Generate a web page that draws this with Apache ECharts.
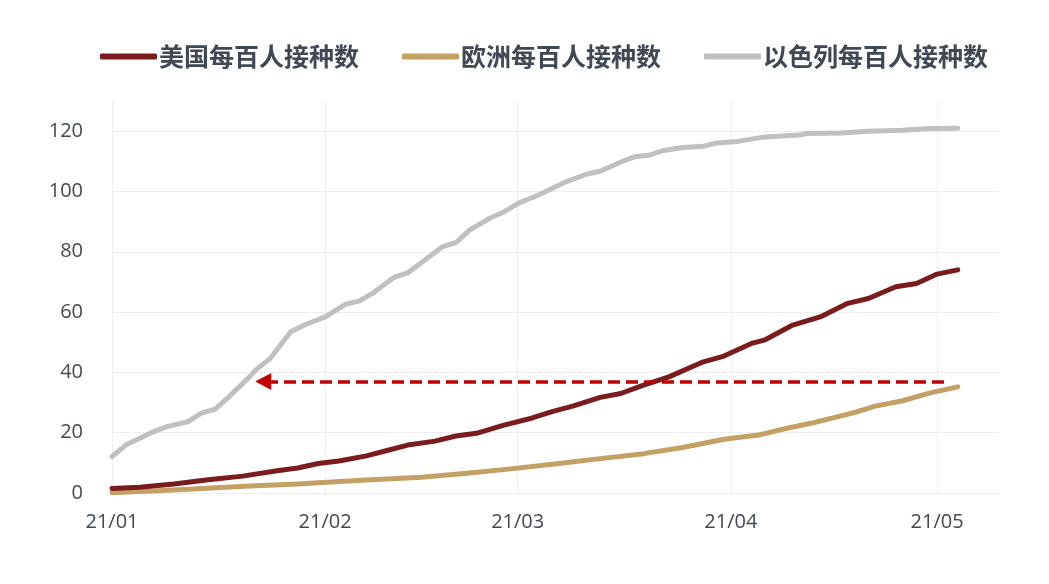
<!DOCTYPE html>
<html>
<head>
<meta charset="utf-8">
<script src="https://cdn.jsdelivr.net/npm/echarts@6/dist/echarts.min.js"></script>
<style>html,body{margin:0;padding:0;background:#fff}#c{width:1049px;height:584px}</style>
</head>
<body>
<div id="c"></div>
<script>
// ---- Data ----
const seriesNames = ['美国每百人接种数', '欧洲每百人接种数', '以色列每百人接种数'];
const axisStart = '2021-01-01';
const axisEnd = '2021-05-10';
const yTicks = [0, 20, 40, 60, 80, 100, 120];

const usData = [
  ['2021-01-01', 1.5], ['2021-01-05', 1.9], ['2021-01-10', 3.0], ['2021-01-15', 4.4],
  ['2021-01-20', 5.6], ['2021-01-25', 7.4], ['2021-01-28', 8.3], ['2021-01-31', 9.8],
  ['2021-02-03', 10.6], ['2021-02-07', 12.3], ['2021-02-10', 14.1], ['2021-02-13', 15.9],
  ['2021-02-17', 17.2], ['2021-02-20', 18.9], ['2021-02-23', 19.8], ['2021-02-27', 22.5],
  ['2021-03-03', 24.8], ['2021-03-06', 27.0], ['2021-03-09', 28.8], ['2021-03-13', 31.7],
  ['2021-03-16', 33.0], ['2021-03-19', 35.5], ['2021-03-23', 38.5], ['2021-03-28', 43.5],
  ['2021-03-31', 45.4], ['2021-04-04', 49.6], ['2021-04-06', 50.8], ['2021-04-10', 55.7],
  ['2021-04-14', 58.4], ['2021-04-18', 62.9], ['2021-04-21', 64.5], ['2021-04-25', 68.4],
  ['2021-04-28', 69.5], ['2021-05-01', 72.6], ['2021-05-04', 74.0]
];

const euData = [
  ['2021-01-01', 0.1], ['2021-01-10', 1.0], ['2021-01-21', 2.3], ['2021-01-28', 3.0],
  ['2021-01-31', 3.4], ['2021-02-07', 4.3], ['2021-02-15', 5.2], ['2021-02-22', 6.6],
  ['2021-02-28', 8.0], ['2021-03-07', 9.8], ['2021-03-13', 11.4], ['2021-03-19', 12.9],
  ['2021-03-20', 13.3], ['2021-03-25', 15.1], ['2021-03-31', 17.8], ['2021-04-05', 19.2],
  ['2021-04-09', 21.4], ['2021-04-13', 23.3], ['2021-04-16', 25.0], ['2021-04-19', 26.7],
  ['2021-04-22', 28.8], ['2021-04-26', 30.6], ['2021-04-30', 33.2], ['2021-05-04', 35.2]
];

const ilData = [
  ['2021-01-01', 12.1], ['2021-01-03', 15.9], ['2021-01-07', 20.3], ['2021-01-09', 22.0],
  ['2021-01-12', 23.6], ['2021-01-14', 26.5], ['2021-01-16', 27.8], ['2021-01-18', 31.9],
  ['2021-01-21', 38.5], ['2021-01-22', 41.0], ['2021-01-24', 44.6], ['2021-01-27', 53.5],
  ['2021-01-29', 55.7], ['2021-02-01', 58.4], ['2021-02-04', 62.6], ['2021-02-06', 63.7],
  ['2021-02-08', 66.4], ['2021-02-11', 71.5], ['2021-02-13', 73.0], ['2021-02-16', 78.1],
  ['2021-02-18', 81.6], ['2021-02-20', 83.0], ['2021-02-22', 87.2], ['2021-02-25', 91.2],
  ['2021-02-27', 93.2], ['2021-03-01', 96.0], ['2021-03-04', 98.8], ['2021-03-05', 99.9],
  ['2021-03-08', 103.2], ['2021-03-11', 105.7], ['2021-03-13', 106.7], ['2021-03-16', 109.8],
  ['2021-03-18', 111.5], ['2021-03-20', 112.0], ['2021-03-22', 113.5], ['2021-03-25', 114.6],
  ['2021-03-28', 115.0], ['2021-03-30', 116.1], ['2021-04-02', 116.6], ['2021-04-06', 118.1],
  ['2021-04-11', 118.7], ['2021-04-12', 119.2], ['2021-04-17', 119.4], ['2021-04-21', 120.0],
  ['2021-04-26', 120.3], ['2021-04-30', 120.9], ['2021-05-04', 121.0]
];

// Annotation: dashed arrow (level and extent)
const arrowLevel = 37;
const arrowFrom = '2021-05-02';
const arrowTo = '2021-01-23';

// ---- Build daily category axis ----
function buildDays(a, b) {
  const out = [];
  let t = Date.UTC(+a.slice(0,4), +a.slice(5,7)-1, +a.slice(8,10));
  const end = Date.UTC(+b.slice(0,4), +b.slice(5,7)-1, +b.slice(8,10));
  while (t <= end) {
    out.push(new Date(t).toISOString().slice(0,10));
    t += 86400000;
  }
  return out;
}
const days = buildDays(axisStart, axisEnd);
const isMonthStart = (i, v) => v.slice(8,10) === '01';

const colors = ['#7a1c1c', '#c4a064', '#c0c0c0'];
const textColor = '#404853';
const gridColor = '#eeeeee';

const chart = echarts.init(document.getElementById('c'));
chart.setOption({
  animation: false,
  color: colors,
  legend: {
    top: 39,
    left: 95,
    icon: 'roundRect',
    itemWidth: 57,
    itemHeight: 6,
    itemGap: 43,
    textStyle: { fontSize: 25, fontWeight: 'bold', color: textColor, fontFamily: 'Noto Sans CJK SC', padding: [0, 0, 0, -3] },
    data: seriesNames
  },
  grid: { left: 112, right: 50, top: 101, bottom: 91 },
  xAxis: {
    type: 'category',
    data: days,
    boundaryGap: false,
    axisLine: { lineStyle: { color: gridColor, width: 1 } },
    axisTick: { show: false },
    axisLabel: {
      interval: isMonthStart,
      formatter: v => v.slice(2,4) + '/' + v.slice(5,7),
      color: textColor, fontSize: 20, fontFamily: 'Open Sans', margin: 19
    },
    splitLine: { show: true, interval: isMonthStart, lineStyle: { color: gridColor, width: 1 } }
  },
  yAxis: {
    type: 'value',
    min: yTicks[0],
    max: 130,
    interval: 20,
    axisLine: { show: false },
    axisTick: { show: false },
    axisLabel: { color: textColor, fontSize: 20, fontFamily: 'Open Sans', margin: 29, showMaxLabel: false },
    splitLine: { show: true, showMaxLine: false, lineStyle: { color: gridColor, width: 1 } }
  },
  series: [
    {
      name: seriesNames[0], type: 'line', data: usData, showSymbol: false, symbol: 'none',
      lineStyle: { width: 5, cap: 'round', join: 'round' }, z: 3,
      markLine: {
        silent: true,
        symbol: ['none', 'triangle'],
        symbolSize: [17, 16],
        label: { show: false },
        lineStyle: { color: '#c00000', width: 3.5, type: [12, 6] },
        data: [[{ coord: [arrowFrom, arrowLevel] }, { coord: [arrowTo, arrowLevel] }]]
      }
    },
    { name: seriesNames[1], type: 'line', data: euData, showSymbol: false, symbol: 'none',
      lineStyle: { width: 5, cap: 'round', join: 'round' }, z: 2 },
    { name: seriesNames[2], type: 'line', data: ilData, showSymbol: false, symbol: 'none',
      lineStyle: { width: 5, cap: 'round', join: 'round' }, z: 1 }
  ]
});
</script>
</body>
</html>
